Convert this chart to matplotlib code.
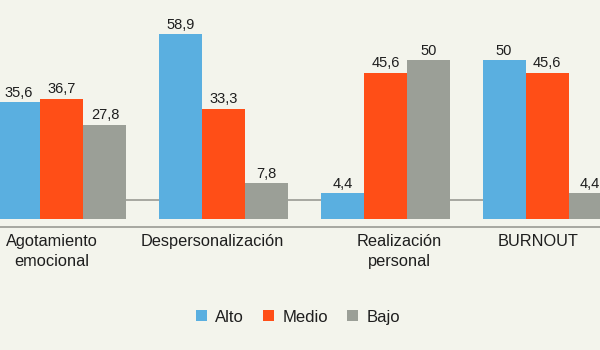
import numpy as np
import matplotlib.pyplot as plt
from matplotlib.patches import Patch

plt.rcParams['font.family'] = ['Liberation Sans', 'DejaVu Sans']

# categorie e valori (%)
categorie = ['Agotamiento\nemocional', 'Despersonalización', 'Realización\npersonal', 'BURNOUT']
alto = [35.6, 58.9, 4.4, 50]
medio = [36.7, 33.3, 45.6, 45.6]
bajo = [27.8, 7.8, 50, 4.4]
serie = ['Alto', 'Medio', 'Bajo']

colori = ['#5AAFE0', '#FF4E17', '#9B9F97']
sfondo = '#F3F4EC'
base = -4.4          # le barre partono un po' sotto lo zero
w = 0.266
x = np.arange(len(categorie))

fig = plt.figure(figsize=(6, 3.5), dpi=100)
fig.patch.set_facecolor(sfondo)
ax = fig.add_axes([0, 0, 1, 1])
ax.set_facecolor(sfondo)
ax.set_xlim(-0.383, 3.327)
ax.set_ylim(-49.2, 70.6)
ax.axis('off')

# linee orizzontali di riferimento
ax.axhline(2.3, color='#9A9A94', lw=1.2, zorder=1)
ax.axhline(-7.2, color='#9A9A94', lw=1.2, zorder=1)

for i, (vals, col) in enumerate(zip([alto, medio, bajo], colori)):
    xi = x + (i - 1) * w
    v = np.array(vals, dtype=float)
    ax.bar(xi, v - base, bottom=base, width=w, color=col, zorder=2, linewidth=0)
    for xx, vv in zip(xi, v):
        testo = ('%g' % vv).replace('.', ',')
        ax.text(xx, vv + 0.9, testo, ha='center', va='bottom', fontsize=10.5,
                color='#1E1E1E', zorder=3)

# etichette delle categorie (leggermente spostate rispetto ai gruppi)
spost = [-0.064, -0.068, 0.087, -0.056]
for xi, lab, s in zip(x, categorie, spost):
    ax.text(xi + s, -9.4, lab, ha='center', va='top', fontsize=11.8,
            color='#1E1E1E', linespacing=1.45)

handles = [Patch(facecolor=c, edgecolor='none', label=s) for c, s in zip(colori, serie)]
fig.legend(handles=handles, loc='center', bbox_to_anchor=(0.497, 0.094), ncol=3,
           frameon=False, fontsize=12, handlelength=0.65, handleheight=0.65,
           handletextpad=0.5, columnspacing=1.15, labelcolor='#1E1E1E')

fig.savefig('out.png', dpi=100, facecolor=sfondo)
